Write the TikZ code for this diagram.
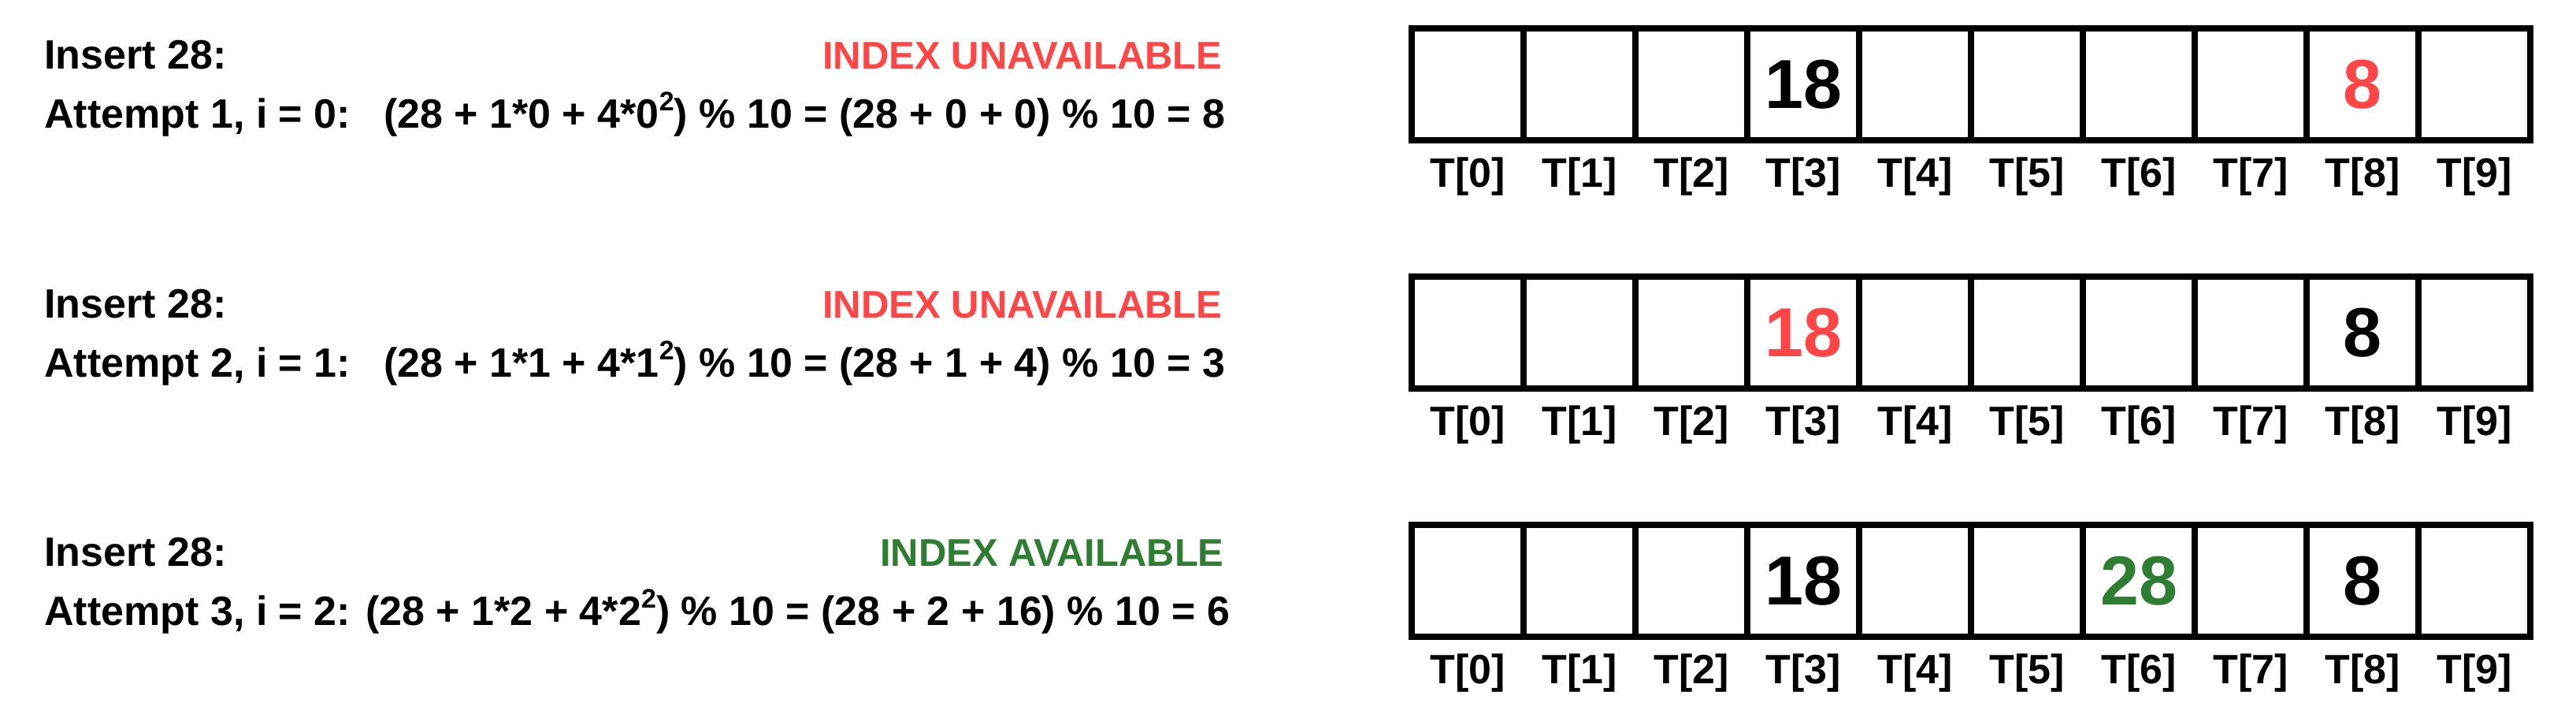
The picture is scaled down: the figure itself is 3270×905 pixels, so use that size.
\documentclass[tikz,border=0pt]{standalone}
\usepackage{fontspec}
\setmainfont{Liberation Sans}
\definecolor{idxred}{RGB}{255,69,69}
\definecolor{idxgreen}{RGB}{46,125,50}
\newcommand{\sqr}[1]{\raisebox{0.42em}{\fontsize{17}{17}\selectfont #1}}
\begin{document}
\begin{tikzpicture}[x=0.5pt,y=-0.5pt,
  txt/.style={inner sep=0pt, font=\fontsize{26}{31}\selectfont\bfseries},
  stat/.style={inner sep=0pt, anchor=base east, font=\fontsize{24.5}{29}\selectfont\bfseries},
  cell/.style={draw, line width=3.75pt, minimum width=71pt, minimum height=71pt, inner sep=0pt},
  val/.style={inner sep=0pt, font=\fontsize{44}{50}\selectfont\bfseries},
  lbl/.style={inner sep=0pt, anchor=base, font=\fontsize{26}{31}\selectfont\bfseries}]
\useasboundingbox (0,0) rectangle (3270,905);
\foreach \r/\yt in {1/36,2/351,3/666} {
  \foreach \i in {0,...,9} {
    \node[cell] (c\r-\i) at ({1792+142*\i+71},{\yt+71}) {};
    \node[lbl] (l\r-\i) at ({1792+142*\i+71},{\yt+201}) {T[\i]};
  }
}
% values
\node[val] (v1a) at (c1-3) {18};
\node[val, text=idxred] (v1b) at (c1-8) {8};
\node[val, text=idxred] (v2a) at (c2-3) {18};
\node[val] (v2b) at (c2-8) {8};
\node[val] (v3a) at (c3-3) {18};
\node[val, text=idxgreen] (v3b) at (c3-6) {28};
\node[val] (v3c) at (c3-8) {8};
% row 1
\node[txt, anchor=base west] (ins1) at (56,87) {Insert 28:};
\node[stat, text=idxred] (st1) at (1552,87) {INDEX UNAVAILABLE};
\node[txt, anchor=base west] (att1) at (56,162) {Attempt 1, i = 0:\hspace{21pt}(28 + 1*0 + 4*0\sqr{2}) \% 10 = (28 + 0 + 0) \% 10 = 8};
% row 2
\node[txt, anchor=base west] (ins2) at (56,403) {Insert 28:};
\node[stat, text=idxred] (st2) at (1552,403) {INDEX UNAVAILABLE};
\node[txt, anchor=base west] (att2) at (56,478) {Attempt 2, i = 1:\hspace{21pt}(28 + 1*1 + 4*1\sqr{2}) \% 10 = (28 + 1 + 4) \% 10 = 3};
% row 3
\node[txt, anchor=base west] (ins3) at (56,718) {Insert 28:};
\node[stat, text=idxgreen] (st3) at (1554,718) {INDEX AVAILABLE};
\node[txt, anchor=base west] (att3) at (56,793) {Attempt 3, i = 2: (28 + 1*2 + 4*2\sqr{2}) \% 10 = (28 + 2 + 16) \% 10 = 6};
\end{tikzpicture}
\end{document}
